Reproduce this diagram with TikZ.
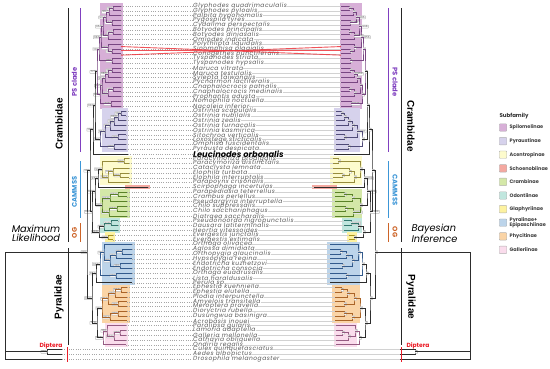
\documentclass[tikz,border=0pt]{standalone}
\usepackage{fontspec}
\setmainfont{Poppins}
\newfontfamily\arialf{Liberation Sans}
\usetikzlibrary{positioning,calc}

% subfamily colours
\definecolor{spil}{RGB}{215,175,215}
\definecolor{pyra}{RGB}{214,210,236}
\definecolor{acen}{RGB}{253,251,205}
\definecolor{scho}{RGB}{244,168,160}
\definecolor{cram}{RGB}{212,232,168}
\definecolor{odon}{RGB}{192,230,222}
\definecolor{glap}{RGB}{253,242,160}
\definecolor{pyre}{RGB}{188,212,234}
\definecolor{phyc}{RGB}{250,212,166}
\definecolor{gall}{RGB}{250,220,236}
% branch colours
\definecolor{spilD}{RGB}{120,70,130}
\definecolor{pyraD}{RGB}{80,75,120}
\definecolor{acenD}{RGB}{150,140,60}
\definecolor{cramD}{RGB}{90,130,40}
\definecolor{odonD}{RGB}{50,120,110}
\definecolor{glapD}{RGB}{170,150,30}
\definecolor{pyreD}{RGB}{50,90,140}
\definecolor{phycD}{RGB}{170,100,40}
\definecolor{gallD}{RGB}{150,90,130}
\definecolor{base}{RGB}{45,45,45}
% clade colours
\definecolor{psc}{RGB}{128,64,192}
\definecolor{cam}{RGB}{60,150,215}
\definecolor{ogc}{RGB}{205,100,40}
\definecolor{dip}{RGB}{235,30,40}
\definecolor{txtgray}{RGB}{90,90,90}

\tikzset{
  br/.style={draw=\brc, line width=0.75pt},
  bsbase/.style={draw=gray!55, fill=white, rounded corners=0.4pt, inner xsep=0.8pt,
    inner ysep=0.5pt, font=\fontsize{2.8}{3}\selectfont, text=black!65},
  taxon/.style={anchor=west, inner sep=0pt,
    font=\fontsize{6}{6}\selectfont\itshape\addfontfeature{LetterSpace=8}, text=txtgray},
  dotl/.style={gray!70, line width=0.3pt, dotted},
  lead/.style={gray!35, line width=0.3pt},
  bk/.style={black!85, line width=0.9pt},
  cl/.style={line width=1pt},
  fam/.style={font=\arialf\bfseries\fontsize{10}{10}\selectfont},
  grp/.style={font=\bfseries\fontsize{6.8}{7}\selectfont},
  meth/.style={font=\itshape\fontsize{9.8}{9}\selectfont, align=center},
  legbox/.style={draw=gray!60, rounded corners=0.8pt, minimum size=7.5bp, inner sep=0pt},
  legtxt/.style={font=\bfseries\fontsize{5}{5.5}\selectfont, text=black!75, align=left, inner sep=0pt},
  redl/.style={draw=dip!90, line width=0.9pt, opacity=0.85}
}

\newcommand\leuc{{\fontsize{8.3}{8}\selectfont\bfseries\color{black}\addfontfeature{LetterSpace=0}Leucinodes orbonalis}}
\newcommand\bgbox[5]{\fill[#1] (#2,{ry(#4)-2.6}) rectangle (#3,{ry(#5)+2.5});}
\newcommand\clade[6]{%
  \coordinate (#1\pf) at ($(#3\pf)!0.5!(#4\pf)$);
  \coordinate (#1\pf) at (#2,0 |- #1\pf);
  \draw[br] (#3\pf) -| (#1\pf) |- (#4\pf);
  \node[bs] (#1\pf b) at (#1\pf) {\pick{#5}{#6}};
}

\newcommand\drawtree{%
  % backgrounds
  \bgbox{spil}{100}{122.5}{1}{22}
  \bgbox{pyra}{102}{128}{23}{31}
  \bgbox{acen}{100}{132}{33}{38}
  \fill[scho] (125,{ry(39)-1.8}) rectangle (150,{ry(39)+1.8});
  \bgbox{cram}{100}{130}{40}{45}
  \bgbox{odon}{100}{120}{46}{48}
  \bgbox{glap}{105}{115}{49}{50}
  \bgbox{pyre}{102}{135}{51}{59}
  \bgbox{phyc}{102}{130}{60}{67}
  \bgbox{gall}{105}{128}{68}{72}
  % tips
  \foreach \a/\b/\x in {1/22/121, 23/31/126, 32/32/128, 33/38/129, 39/39/148, 40/45/127,
      46/48/118, 49/50/113, 51/59/132, 60/67/127, 68/72/126, 73/75/62}
    \foreach \i in {\a,...,\b} \coordinate (t\i\pf) at (\x,{ry(\i)});
  % Spilomelinae
  \def\brc{spilD}
  \clade{s1}{113}{t1}{t2}{100}{1}
  \clade{s2}{109}{s1}{t3}{99.7}{1}
  \clade{s3}{112}{t4}{t5}{77.3}{0.755}
  \clade{s4}{106}{s2}{s3}{99.7}{0.986}
  \clade{s5}{113}{t6}{t7}{100}{1}
  \clade{s6}{108}{s5}{t8}{99.8}{0.998}
  \clade{s7}{103}{s4}{s6}{96.8}{0.998}
  \clade{s8}{112}{t10}{t11}{100}{1}
  \clade{s9}{108}{t9}{s8}{100}{1}
  \clade{s10}{101}{s7}{s9}{98.6}{0.856}
  \clade{s11}{112}{t12}{t13}{100}{1}
  \clade{s12}{99}{s10}{s11}{100}{1}
  \clade{s13}{112}{t14}{t15}{100}{1}
  \clade{s14}{108}{s13}{t16}{98.6}{0.969}
  \clade{s15}{105}{s14}{t17}{96.7}{1}
  \clade{s16}{113}{t18}{t19}{100}{1}
  \clade{s17}{108}{s16}{t20}{100}{1}
  \clade{s18}{102}{s15}{s17}{98.5}{1}
  \clade{s19}{111}{t21}{t22}{77.6}{0.947}
  \clade{s20}{100}{s18}{s19}{92.1}{1}
  \clade{s21}{97}{s12}{s20}{77.5}{1}
  % Pyraustinae
  \def\brc{pyraD}
  \clade{p1}{121}{t23}{t24}{100}{1}
  \clade{p2}{118}{p1}{t25}{99.9}{1}
  \clade{p3}{114}{p2}{t26}{100}{1}
  \clade{p4}{110}{p3}{t27}{100}{1}
  \clade{p5}{118}{t28}{t29}{100}{1}
  \clade{p6}{105}{p4}{p5}{94.1}{0.997}
  \clade{p7}{114}{t30}{t31}{100}{1}
  \clade{p8}{100}{p6}{p7}{100}{1}
  \def\brc{base}
  \clade{c1}{95}{s21}{p8}{99.9}{1}
  \clade{c2}{93}{c1}{t32}{100}{1}
  % Acentropinae, Schoenobiinae
  \def\brc{acenD}
  \clade{a1}{124}{t33}{t34}{100}{1}
  \clade{a2}{120}{t36}{t37}{100}{1}
  \clade{a3}{113}{t35}{a2}{99.9}{1}
  \clade{a4}{108}{a3}{t38}{99.3}{1}
  \clade{a5}{102}{a1}{a4}{97.9}{1}
  \def\brc{base}
  \clade{a6}{98}{a5}{t39}{96.1}{0.999}
  % Crambinae
  \def\brc{cramD}
  \clade{k1}{118}{t40}{t41}{99.9}{1}
  \clade{k2}{110}{k1}{t42}{99.8}{1}
  \clade{k3}{117}{t43}{t44}{99.9}{1}
  \clade{k4}{109}{k3}{t45}{99.5}{0.999}
  \clade{k5}{102}{k2}{k4}{100}{1}
  \def\brc{base}
  \clade{k6}{95}{a6}{k5}{98.8}{0.999}
  % Odontiinae, Glaphyriinae
  \def\brc{odonD}
  \clade{o1}{111}{t46}{t47}{77.8}{0.999}
  \clade{o2}{104}{o1}{t48}{100}{1}
  \def\brc{glapD}
  \clade{g1}{108}{t49}{t50}{100}{1}
  \def\brc{base}
  \clade{o3}{99}{o2}{g1}{99.8}{1}
  \clade{c3}{92}{k6}{o3}{96.9}{0.999}
  \clade{c4}{90}{c2}{c3}{100}{1}
  % Pyralinae + Epipaschiinae
  \def\brc{pyreD}
  \clade{y1}{122}{t52}{t53}{100}{1}
  \clade{y2}{116}{y1}{t54}{100}{1}
  \clade{y3}{120}{t55}{t56}{100}{1}
  \clade{y4}{110}{y2}{y3}{100}{1}
  \clade{y5}{104}{t51}{y4}{100}{1}
  \clade{y6}{116}{t57}{t58}{100}{1}
  \clade{y7}{100}{y5}{y6}{99.6}{1}
  \def\brc{base}
  \clade{y8}{96}{y7}{t59}{95.1}{1}
  % Phycitinae
  \def\brc{phycD}
  \clade{f1}{121}{t60}{t61}{99.6}{1}
  \clade{f2}{115}{f1}{t62}{100}{1}
  \clade{f3}{118}{t63}{t64}{100}{1}
  \clade{f4}{108}{f2}{f3}{99.7}{1}
  \clade{f5}{118}{t65}{t66}{100}{1}
  \clade{f6}{110}{f5}{t67}{98.3}{1}
  \clade{f7}{102}{f4}{f6}{100}{1}
  % Galleriinae
  \def\brc{gallD}
  \clade{l1}{120}{t69}{t70}{100}{1}
  \clade{l2}{114}{l1}{t71}{99.9}{1}
  \clade{l3}{107}{t68}{l2}{100}{1}
  \clade{l4}{103}{l3}{t72}{99.6}{1}
  \def\brc{base}
  \clade{y9}{97}{f7}{l4}{77.8}{1}
  \clade{y10}{92}{y8}{y9}{99.9}{1}
  % Lepidoptera, Diptera and root
  \coordinate (lep\pf) at (87,{ry(52.6)});
  \draw[br] (c4\pf) -| (lep\pf) |- (y10\pf);
  \node[bs] (lep\pf b) at (lep\pf) {\pick{100}{1}};
  \clade{d1}{47}{t73}{t74}{100}{1}
  \coordinate (root\pf) at (\rootx,0 |- t75\pf);
  \draw[br] (lep\pf) -| (root\pf) -- (t75\pf);
  \draw[br] (d1\pf) -- (d1\pf -| root\pf);
}

\begin{document}
\begin{tikzpicture}[x=1bp, y=-1bp, declare function={ry(\n)=6+(\n-1)*4.77;}]
  \useasboundingbox (0,0) rectangle (550,368);
  \fill[white] (0,0) rectangle (550,368);

  % taxa
  \foreach \sp [count=\i] in {Glyphodes quadrimaculalis, Glyphodes pyloalis, Palpita hypohomalis,
      Pygospila tyres, Cydalima perspectalis, Botyodes principalis, Botyodes diniasalis,
      Omiodes indicata, Polythlipta liquidalis, Sinomphisa plagialis, Conogethes punctiferalis,
      Tyspanodes striata, Tyspanodes hypsalis, Maruca vitrata, Maruca testulalis,
      Sylepta taiwanalis, Pycnarmon lactiferalis, Cnaphalocrocis patnalis,
      Cnaphalocrocis medinalis, Prophantis adusta, Nomophila noctuella, Nacoleia inferior,
      Ostrinia scapulalis, Ostrinia nubilalis, Ostrinia zealis, Ostrinia furnacalis,
      Ostrinia kasmirica, Sitochroa verticalis, Loxostege sticticalis, Omphisa fuscidentalis,
      Pyrausta despicata, \leuc, Paracymoriza prodigalis, Paracymoriza distinctalis,
      Cataclysta lemnata, Elophila turbata, Elophila interruptalis, Parapoynx crisonalis,
      Scirpophaga incertulas, Parapediasia teterrellus, Crambus perlellus,
      Pseudargyria interruptella, Chilo suppressalis, Chilo sacchariphagus,
      Diatraea saccharalis, Pseudonoorda nigropunctalis, Dausara latiterminalis,
      Heortia vitessoides, Evergestis junctalis, Evergestis extimalis, Orthaga olivacea,
      Aglossa dimidiata, Orthopygia glaucinalis, Hypsopygia regina, Endotricha kuznetzovi,
      Endotricha consocia, Orthaga euadrusalis, Lista haraldusalis, Perula sp.,
      Ephestia kuehniella, Ephestia elutella, Plodia interpunctella, Amyelois transitella,
      Meroptera pravella, Dioryctria rubella, Dusungwua basinigra, Acrobasis inouei,
      Paralipsa gularis, Lamoria adaptella, Galleria mellonella, Cathayia obliquella,
      Ondiria regalis, Culex quinquefasciatus, Aedes albopictus, Drosophila melanogaster}
    \node[taxon] (sp\i) at (193,{ry(\i)}) {\sp};

  % Maximum likelihood tree
  \begin{scope}
    \def\pf{L}\def\rootx{5}\def\pick#1#2{#1}
    \tikzset{bs/.style={bsbase, anchor=east}}
    \drawtree
  \end{scope}
  % Bayesian inference tree
  \begin{scope}[shift={(462,0)}, xscale=-1]
    \def\pf{R}\def\rootx{-8}\def\pick#1#2{#2}
    \tikzset{bs/.style={bsbase, anchor=west}}
    \drawtree
  \end{scope}

  % leaders
  \foreach \i in {1,...,75} {
    \draw[dotl] (t\i L) -- (sp\i.west);
    \draw[lead] (sp\i.east) -- (t\i R);
  }

  % changed positions
  \coordinate (rA) at ($(t9L)!0.5!(t10L)$);
  \coordinate (rB) at ($(t11L)!0.3!(t12L)$);
  \coordinate (rC) at ($(t10L)!0.4!(t11L)$);
  \coordinate (qA) at ($(t9R)!0.5!(t10R)$);
  \coordinate (qB) at ($(t11R)!0.3!(t12R)$);
  \coordinate (qC) at ($(t10R)!0.4!(t11R)$);
  \draw[redl] (rA) -- (qB);
  \draw[redl] (rB) -- (qA);
  \draw[redl] (rC) -- (qC);

  % clade brackets, left
  \draw[bk] (68,8) -- (68,242);
  \draw[bk] (68,248) -- (68,345);
  \draw[cl, psc] (80,8) -- (80,152);
  \draw[cl, cam] (80,161) -- (80,218);
  \draw[cl, ogc] (80,223) -- (80,242);
  \draw[cl, dip] (67,347) -- (67,362);
  \node[fam, rotate=90] (crL) at (59,124) {Crambidae};
  \node[fam, rotate=90] (pyL) at (59,297) {Pyralidae};
  \node[grp, psc, rotate=90] (psL) at (74.5,82) {PS clade};
  \node[grp, cam, rotate=90] (caL) at (74.5,192) {CAMMSS};
  \node[grp, ogc, rotate=90] (ogL) at (74.5,233) {OG};
  \node[grp, dip, font=\bfseries\fontsize{6}{6}\selectfont] (diL) at (51,346) {Diptera};
  \node[meth] (ml) at (36,233) {Maximum\\Likelihood};

  % clade brackets, right
  \draw[bk] (401,8) -- (401,242);
  \draw[bk] (401,248) -- (401,345);
  \draw[cl, psc] (388,8) -- (388,152);
  \draw[cl, cam] (388,161) -- (388,218);
  \draw[cl, ogc] (388,223) -- (388,242);
  \draw[cl, dip] (401,347) -- (401,362);
  \node[fam, rotate=-90] (crR) at (411,126) {Crambidae};
  \node[fam, rotate=-90] (pyR) at (411,297) {Pyralidae};
  \node[grp, psc, rotate=-90] (psR) at (395,82) {PS clade};
  \node[grp, cam, rotate=-90] (caR) at (395,190) {CAMMSS};
  \node[grp, ogc, rotate=-90] (ogR) at (395,232) {OG};
  \node[grp, dip, font=\bfseries\fontsize{6}{6}\selectfont] (diR) at (418,346) {Diptera};
  \node[meth, align=left, anchor=west] (bi) at (408,233) {Bayesian\\Inference};

  % legend
  \node[font=\bfseries\fontsize{5.5}{6}\selectfont, text=black!80] (leg) at (514,116) {Subfamily};
  \foreach \c/\t [count=\k from 0] in {spil/Spilomelinae, pyra/Pyraustinae, acen/Acentropinae,
      scho/Schoenobiinae, cram/Crambinae, odon/Odontiinae, glap/Glaphyriinae,
      pyre/{Pyralinae+\\Epipaschiinae}, phyc/Phycitinae, gall/Galleriinae} {
    \node[legbox, fill=\c] (lg\k) at (503,{127.5+13.6*\k}) {};
    \node[legtxt, anchor=west, right=2.5bp of lg\k] (lt\k) {\t};
  }
\end{tikzpicture}
\end{document}
